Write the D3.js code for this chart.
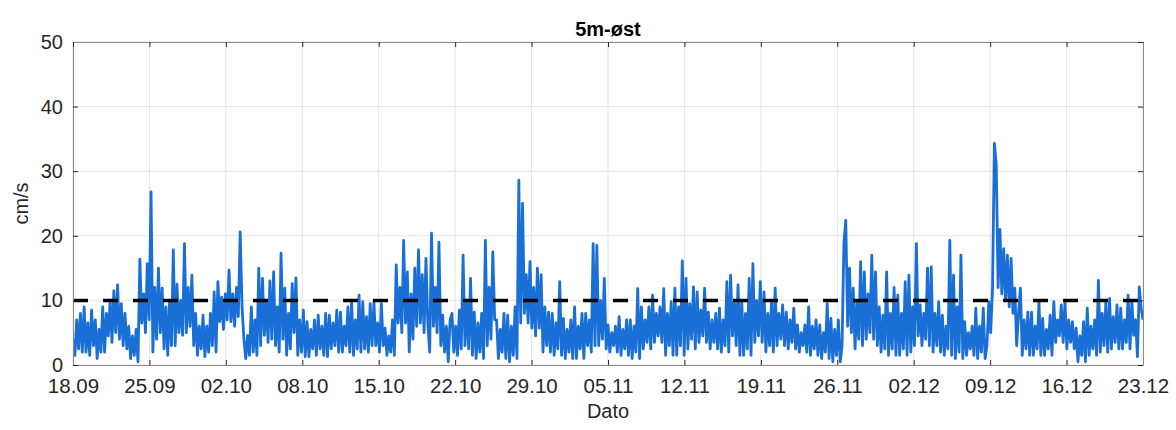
<!DOCTYPE html>
<html>
<head>
<meta charset="utf-8">
<script src="https://cdn.jsdelivr.net/npm/d3@7"></script>
<style>
  body { margin: 0; background: #fff; }
  svg { display: block; font-family: Arial, "Liberation Sans", sans-serif; }
</style>
</head>
<body>
<svg id="chart" width="1176" height="430"></svg>
<script>
// current speed, cm/s, 6 readings per day (every 4 h) from 18.09, one row per day
const sepVals = [
  4, 1.5, 7, 2.5, 8, 2,
  9, 2, 6.5, 1.5, 8.5, 3,
  7, 1, 5.5, 2, 9, 2,
  8, 4.5, 10, 3.5, 11.5, 5,
  12.4, 4, 9.5, 3, 8, 2.5,
  6, 1, 4.5, 1.5, 5.5, 0.5,
  16.4, 6.5, 11, 5, 15.7, 7,
  26.8, 2, 12, 4, 15, 5,
  11.9, 2.5, 9, 1.5, 10, 3,
  17.8, 3, 12.5, 5, 10, 4.6,
  18.8, 5, 12, 6, 13.9, 3,
  8, 1.5, 6, 2.5, 7.7, 1.3,
  6, 2, 8, 3, 11.3, 2
];
const octVals = [
  12.9, 6.7, 10.5, 5.5, 11, 7,
  14.7, 6.7, 11, 6, 12, 7.5,
  20.6, 9, 4, 1, 4.6, 1.5,
  9, 2, 7, 1.5, 15, 3,
  13.4, 4.6, 10, 3.5, 13, 4,
  14.4, 3, 9, 2, 17.3, 4,
  11.9, 1.5, 8, 2.5, 12.6, 5,
  13.5, 1.5, 7, 2, 8.5, 1.3,
  6.7, 1.3, 5.5, 2.5, 7, 1.5,
  7.7, 2.5, 6, 1.5, 8, 1.3,
  7.7, 2.5, 6.5, 3, 8.5, 2,
  8.2, 2, 6, 3, 9, 2,
  9.8, 1.5, 7, 2.5, 10.8, 2,
  9.8, 2.5, 7.5, 2, 9.5, 3,
  9.8, 3, 6.5, 2, 9.5, 3,
  5.7, 1.5, 4.5, 2, 7, 1.5,
  15.5, 6.5, 12, 5, 19.3, 6.5,
  14.4, 2, 11, 4, 15, 6,
  17.8, 6.5, 14, 5, 16.5, 6.5,
  2, 20.4, 6, 12, 5, 19,
  3, 7.7, 2, 6, 0.5, 7,
  8, 2, 6, 1.5, 8.5, 2.5,
  17, 3, 10, 2.5, 13.4, 1.5,
  8.2, 1, 6.5, 2, 8, 1,
  19.3, 3, 12, 4, 17.5, 7,
  7, 1, 5.5, 2, 8, 1,
  7.7, 0.5, 6, 1.5, 9, 1,
  28.6, 6.5, 25, 8, 14, 6.5,
  16, 5.7, 12, 4.5, 15, 5.7,
  14, 2, 9, 3, 8.2, 2,
  8, 1.5, 6.5, 2.5, 12.9, 1.5
];
const novVals = [
  7.2, 1, 5.5, 2, 7, 1,
  9, 1, 6, 2.5, 8, 1,
  8, 3, 7, 2, 18.8, 3,
  18.5, 3, 10, 4, 13.4, 2.5,
  6.2, 2, 5, 3, 6, 2,
  7.5, 1.5, 5.5, 2.5, 7, 1.5,
  7, 1, 6, 2, 11.8, 1,
  9, 2.5, 7, 3.5, 9, 2.5,
  10.8, 3.5, 8, 4.5, 9, 3.5,
  11.8, 1.5, 8, 3, 9.8, 1.5,
  11.9, 1.5, 9, 3, 16.1, 1.5,
  13.4, 2.5, 9.5, 4, 12.1, 2.5,
  11.3, 3.5, 8.5, 4.5, 11.9, 3.5,
  8.2, 2.5, 7, 3.5, 8, 2.5,
  8.8, 2, 7, 3, 12.9, 2,
  13.9, 4.5, 10, 3, 12.4, 1.5,
  10, 1.5, 8, 2.5, 13.4, 1.5,
  15.7, 3.5, 10, 4.5, 12.9, 3.5,
  11.3, 2, 8, 3, 9.8, 2,
  11.9, 3, 8, 4, 9.3, 3,
  8.2, 2.5, 7, 3.5, 8.8, 2.5,
  6.2, 2, 5, 3, 6.2, 2,
  9, 1.5, 6, 2.5, 7, 1.5,
  6.2, 1, 5, 2, 9.5, 1,
  7.2, 0.5, 5.5, 1.5, 7, 0.5,
  3, 19, 22.4, 6, 15, 5,
  11.9, 2.5, 10, 4, 16, 3,
  14.4, 4, 11, 5, 17, 4,
  14.4, 3, 9, 2, 7.7, 2.5,
  14.4, 1.5, 8, 2.5, 12, 1.5
];
const decVals = [
  10.8, 1.5, 8, 2.5, 12.9, 1.5,
  13.9, 2, 9, 3, 18.8, 4.5,
  9.3, 3, 8, 4, 15, 3,
  15.2, 2, 8, 3, 9.8, 2,
  7.7, 1.5, 6, 2.5, 19.3, 1.5,
  13.9, 1, 9, 2, 17, 1,
  6.7, 1.5, 5, 2.5, 6, 1.5,
  8.8, 1, 6, 2, 8.8, 1,
  3, 9.8, 5, 11.9, 34.3, 31,
  12, 21, 11, 18, 10, 17,
  9, 16.5, 8, 11.9, 3, 8,
  11.9, 1.5, 7, 2.5, 8.2, 1.5,
  8.2, 1.5, 6, 2.5, 9.8, 1.5,
  7.2, 1.5, 5.5, 2.5, 7.7, 1.5,
  9.8, 3.5, 7, 4.5, 9.3, 3.5,
  9.8, 2.5, 7, 3.5, 6.7, 2.5,
  5.7, 0.5, 4.5, 1.5, 6.7, 0.5,
  8.8, 1.5, 6, 2.5, 7, 1.5,
  13.1, 2, 8, 3, 9.8, 2,
  10.3, 2.5, 7.5, 3.5, 9.3, 2.5,
  8.8, 2.5, 7, 3.5, 10.8, 2.5,
  9.8, 4.6, 7, 1.3, 12.1, 8.8,
  7
];
const xTickLabels = ['18.09', '25.09', '02.10', '08.10', '15.10', '22.10', '29.10', '05.11',
  '12.11', '19.11', '26.11', '02.12', '09.12', '16.12', '23.12'];
const yTicks = [0, 10, 20, 30, 40, 50];
const threshold = 10;

const startDate = new Date(2019, 8, 18);
const endDate = new Date(2019, 11, 23);
const stepMs = 4 * 3600 * 1000;

const series = [...sepVals, ...octVals, ...novVals, ...decVals]
  .map((v, i) => ({ t: new Date(startDate.getTime() + i * stepMs), v }));

const margin = { top: 42, right: 33, bottom: 65, left: 73 };
const width = 1176 - margin.left - margin.right;
const height = 430 - margin.top - margin.bottom;

const x = d3.scaleTime().domain([startDate, endDate]).range([0, width]);
const y = d3.scaleLinear().domain([0, 50]).range([height, 0]);

const span = endDate - startDate;
const xTickVals = xTickLabels.map((_, i) => new Date(startDate.getTime() + i * span / (xTickLabels.length - 1)));

const svg = d3.select('#chart');
const g = svg.append('g').attr('transform', `translate(${margin.left},${margin.top})`);

svg.append('defs').append('clipPath').attr('id', 'clip')
  .append('rect').attr('width', width).attr('height', height);

// grid
g.append('g').selectAll('line').data(xTickVals).enter().append('line')
  .attr('x1', d => x(d)).attr('x2', d => x(d))
  .attr('y1', 0).attr('y2', height)
  .attr('stroke', '#e3e3e3').attr('stroke-width', 1);
g.append('g').selectAll('line').data(yTicks).enter().append('line')
  .attr('x1', 0).attr('x2', width)
  .attr('y1', d => y(d)).attr('y2', d => y(d))
  .attr('stroke', '#e3e3e3').attr('stroke-width', 1);

// data line
const line = d3.line().x(d => x(d.t)).y(d => y(d.v));
g.append('path')
  .datum(series)
  .attr('clip-path', 'url(#clip)')
  .attr('fill', 'none')
  .attr('stroke', '#1a6fd6')
  .attr('stroke-width', 2.8)
  .attr('stroke-linejoin', 'round')
  .attr('d', line);

// threshold
g.append('line')
  .attr('x1', 0).attr('x2', width)
  .attr('y1', y(threshold)).attr('y2', y(threshold))
  .attr('stroke', '#000').attr('stroke-width', 3.5)
  .attr('stroke-dasharray', '15,15');

// axes (ticks pointing inward, box round the plot)
const xAxis = d3.axisBottom(x).tickValues(xTickVals)
  .tickFormat((d, i) => xTickLabels[i]).tickSizeInner(-5).tickSizeOuter(0).tickPadding(13);
const yAxis = d3.axisLeft(y).tickValues(yTicks).tickSizeInner(-5).tickSizeOuter(0).tickPadding(10);

const gx = g.append('g').attr('transform', `translate(0,${height})`).call(xAxis);
const gy = g.append('g').call(yAxis);
g.append('g').call(d3.axisTop(x).tickValues(xTickVals).tickFormat('').tickSizeInner(-5).tickSizeOuter(0));
g.append('g').attr('transform', `translate(${width},0)`)
  .call(d3.axisRight(y).tickValues(yTicks).tickFormat('').tickSizeInner(-5).tickSizeOuter(0));

g.selectAll('.domain').attr('stroke', '#8c8c8c');
g.selectAll('.tick line').attr('stroke', '#262626');
gx.selectAll('text').attr('font-size', 20.5);
gy.selectAll('text').attr('font-size', 20);
[gx, gy].forEach(a => a.selectAll('text')
  .attr('fill', '#262626')
  .style('font-family', 'Arial, "Liberation Sans", sans-serif'));

// titles
svg.append('text')
  .attr('x', margin.left + width / 2).attr('y', 36)
  .attr('text-anchor', 'middle')
  .attr('font-size', 20).attr('font-weight', 'bold').attr('fill', '#000')
  .text('5m-øst');
svg.append('text')
  .attr('x', margin.left + width / 2).attr('y', 418)
  .attr('text-anchor', 'middle')
  .attr('font-size', 20).attr('fill', '#262626')
  .text('Dato');
svg.append('text')
  .attr('transform', `translate(28,${margin.top + height / 2}) rotate(-90)`)
  .attr('text-anchor', 'middle')
  .attr('font-size', 20).attr('fill', '#262626')
  .text('cm/s');
</script>
</body>
</html>
